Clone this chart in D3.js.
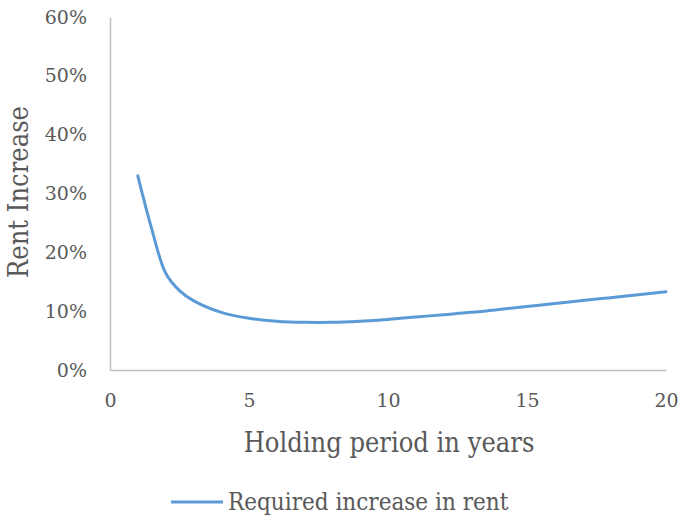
<!DOCTYPE html>
<meta charset="utf-8">
<style type="text/css">
  body {
    margin: 0;
    background: #fff;
    font-family: "DejaVu Serif Condensed", "DejaVu Serif", serif;
  }
  .axis path, .axis line {
    stroke: #bfbfbf;
  }
  .axis text {
    fill: #595959;
    font-size: 19px;
    font-family: "DejaVu Serif", serif;
  }
  .title {
    fill: #595959;
    font-family: "DejaVu Serif Condensed", "DejaVu Serif", serif;
    font-stretch: condensed;
  }
</style>
<body></body>
<script src="https://d3js.org/d3.v7.min.js"></script>
<script>
  // holding period (years) and required rent increase
  var years = [1, 1.5, 2, 2.5, 3, 4, 5, 6, 7, 8, 9, 10, 11, 12, 13, 14, 15, 16, 17, 18, 19, 20];
  var rentIncrease = [0.330, 0.240, 0.165, 0.135, 0.118, 0.098, 0.088, 0.083, 0.081, 0.081, 0.083, 0.086, 0.090, 0.094, 0.098, 0.103, 0.108, 0.113, 0.118, 0.123, 0.128, 0.133];
  var xTicks = [0, 5, 10, 15, 20];
  var yTicks = [0, 0.1, 0.2, 0.3, 0.4, 0.5, 0.6];
  var seriesName = "Required increase in rent";

  var width = 682, height = 517;
  var margin = { top: 17, right: 16, bottom: 147, left: 110 };

  var svg = d3.select("body").append("svg")
    .attr("width", width)
    .attr("height", height);

  var x = d3.scaleLinear().domain([0, 20]).range([margin.left, width - margin.right]);
  var y = d3.scaleLinear().domain([0, 0.6]).range([height - margin.bottom, margin.top]);

  var yAxis = svg.append("g")
    .attr("class", "axis")
    .attr("transform", "translate(" + margin.left + ",0)")
    .call(d3.axisLeft(y).tickValues(yTicks).tickSize(0).tickPadding(23)
      .tickFormat(d3.format(".0%")));
  yAxis.select(".domain").attr("stroke-width", 1.5);

  var xAxis = svg.append("g")
    .attr("class", "axis")
    .attr("transform", "translate(0," + (height - margin.bottom) + ")")
    .call(d3.axisBottom(x).tickValues(xTicks).tickSize(0).tickPadding(24));
  xAxis.select(".domain").attr("stroke-width", 1.5);

  var data = years.map(function(d, i) { return { x: d, y: rentIncrease[i] }; });

  var line = d3.line()
    .x(function(d) { return x(d.x); })
    .y(function(d) { return y(d.y); })
    .curve(d3.curveCatmullRom.alpha(0.5));

  svg.append("path")
    .datum(data)
    .attr("fill", "none")
    .attr("stroke", "#5b9bd5")
    .attr("stroke-width", 3)
    .attr("stroke-linecap", "round")
    .attr("d", line);

  // axis titles
  svg.append("text")
    .attr("class", "title")
    .attr("transform", "translate(28,192) rotate(-90)")
    .attr("text-anchor", "middle")
    .style("font-size", "27px")
    .text("Rent Increase");

  svg.append("text")
    .attr("class", "title")
    .attr("x", 389)
    .attr("y", 452)
    .attr("text-anchor", "middle")
    .style("font-size", "27px")
    .text("Holding period in years");

  // legend
  var legend = svg.append("g");
  legend.append("line")
    .attr("x1", 171).attr("x2", 223)
    .attr("y1", 502).attr("y2", 502)
    .attr("stroke", "#5b9bd5")
    .attr("stroke-width", 3);
  legend.append("text")
    .attr("class", "title")
    .attr("x", 228)
    .attr("y", 510)
    .style("font-size", "24px")
    .text(seriesName);
</script>
